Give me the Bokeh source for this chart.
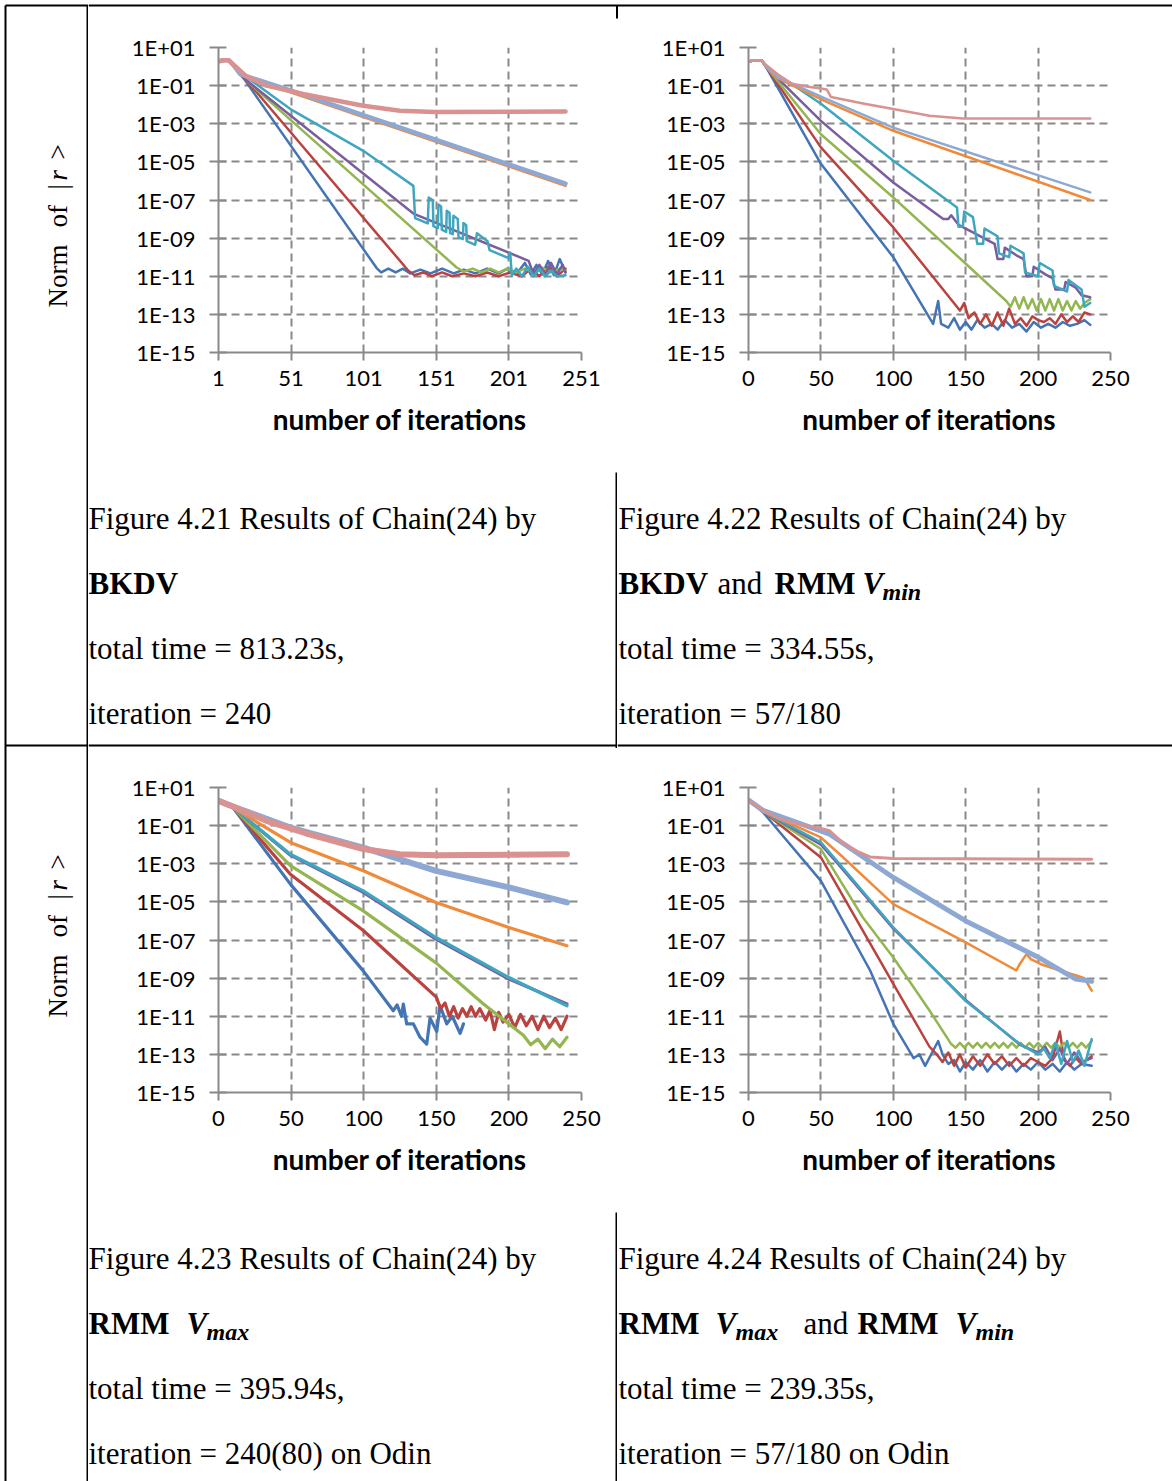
import math
from bokeh.plotting import figure
from bokeh.layouts import column, row
from bokeh.models import Range1d, FixedTicker
from bokeh.core.properties import value
from bokeh.embed import file_html
from bokeh.resources import INLINE

# ---------------- data (log10 of residual norm vs. iteration) ----------------
SERIES_NAMES = ["blue", "red", "green", "purple", "cyan", "orange", "lightblue", "pink"]
COLORS = ["#4574B4", "#BA4340", "#93B650", "#7A5D9E", "#3FA6C0", "#F08A38", "#8EA8D4", "#D9928F"]

Y_TICKS = [1, -1, -3, -5, -7, -9, -11, -13, -15]
Y_TICK_LABELS = ["1E+01", "1E-01", "1E-03", "1E-05", "1E-07", "1E-09", "1E-11", "1E-13", "1E-15"]
X_TICKS_21 = [1, 51, 101, 151, 201, 251]
X_TICKS = [0, 50, 100, 150, 200, 250]
X_LABEL = "number of iterations"
Y_LABEL_PARTS = ["Norm", "of", "|", "r", ">"]

# Figure 4.21 (BKDV)
F21_BLUE_IT = [1, 4, 8, 11, 15.5, 109.9, 113, 118, 123, 128, 133, 140, 147, 155, 163, 170, 178, 186, 194, 200, 206, 212, 216, 220, 224, 228, 232, 236, 240]
F21_BLUE_LG = [0.27, 0.33, 0.33, 0.1, -0.31, -10.57, -10.8, -10.6, -10.8, -10.6, -10.85, -10.65, -10.85, -10.6, -10.85, -10.65, -10.85, -10.6, -10.85, -10.6, -10.9, -10.3, -10.9, -10.4, -10.9, -10.2, -10.95, -10.1, -10.8]
F21_RED_IT = [1, 4, 8, 11, 15, 131.8, 136, 142, 148, 155, 162, 170, 178, 186, 194, 202, 210, 216, 222, 228, 234, 240]
F21_RED_LG = [0.27, 0.33, 0.33, 0.1, -0.25, -10.71, -10.95, -10.8, -11.0, -10.8, -11.0, -10.85, -11.0, -10.8, -11.0, -10.8, -11.0, -10.6, -11.0, -10.5, -11.0, -10.6]
F21_GREEN_IT = [1, 4, 8, 11, 17.8, 165, 170, 176, 182, 188, 194, 200, 206, 212, 218, 224, 230, 236, 240]
F21_GREEN_LG = [0.27, 0.33, 0.33, 0.1, -0.57, -10.54, -10.75, -10.6, -10.8, -10.6, -10.8, -10.6, -10.8, -10.6, -10.8, -10.55, -10.8, -10.6, -10.7]
F21_PURPLE_IT = [1, 4, 8, 11, 17.8, 135.2, 214.6, 218, 222, 226, 230, 234, 238, 240]
F21_PURPLE_LG = [0.27, 0.33, 0.33, 0.1, -0.57, -7.71, -10.19, -10.9, -10.4, -10.9, -10.3, -10.9, -10.4, -10.8]
F21_CYAN_IT = [1, 4, 8, 11, 15, 50.5, 100.7, 135.2, 136.4, 145.1, 145.8, 148.6, 149.0, 152.0, 152.5, 154.3, 154.8, 157.8, 158.2, 160.1, 160.5, 162.4, 162.8, 165.8, 166.3, 169.3, 169.7, 171.6, 172.0, 177.8, 179.0, 186.3, 187.7, 200.8, 201.9, 203, 206, 210, 214, 218, 222, 226, 230, 234, 240]
F21_CYAN_LG = [0.27, 0.33, 0.33, 0.1, -0.25, -2.23, -4.42, -6.26, -7.95, -8.23, -6.87, -7.02, -8.37, -8.48, -7.23, -7.34, -8.56, -8.67, -7.57, -7.67, -8.74, -8.79, -7.83, -8.0, -8.95, -9.05, -8.21, -8.32, -9.16, -9.35, -8.74, -9.16, -9.63, -10.05, -9.75, -10.98, -10.6, -11.0, -10.5, -11.0, -10.6, -11.0, -10.7, -11.0, -10.95]
F21_ORANGE_IT = [1, 4, 8, 11, 16, 240]
F21_ORANGE_LG = [0.27, 0.33, 0.33, 0.1, -0.45, -6.26]
F21_LIGHTBLUE_IT = [1, 4, 8, 11, 16, 50.5, 240]
F21_LIGHTBLUE_LG = [0.27, 0.33, 0.33, 0.1, -0.4, -1.25, -6.14]
F21_PINK_IT = [1, 4, 8, 11, 20, 34, 60, 100.7, 126, 150, 240]
F21_PINK_LG = [0.27, 0.33, 0.33, 0.12, -0.5, -1.0, -1.45, -2.06, -2.32, -2.38, -2.36]

# Figure 4.22 (BKDV and RMM Vmin)
F22_BLUE_IT = [0, 4, 9, 12, 50, 100, 127.5, 131, 133, 138, 142, 146, 150, 154, 158, 163, 168, 172, 177, 182, 187, 192, 197, 202, 207, 212, 217, 222, 227, 232, 236]
F22_BLUE_LG = [0.27, 0.33, 0.33, 0.0, -5.1, -10.0, -13.5, -12.3, -13.5, -13.7, -13.2, -13.8, -13.4, -13.8, -13.3, -13.7, -13.5, -13.8, -13.3, -13.7, -13.5, -13.9, -13.4, -13.7, -13.5, -13.7, -13.4, -13.6, -13.5, -13.3, -13.55]
F22_RED_IT = [0, 4, 9, 12, 50, 100, 146, 149, 152, 156, 160, 164, 168, 172, 176, 180, 184, 188, 192, 196, 200, 204, 208, 212, 216, 220, 224, 228, 232, 236]
F22_RED_LG = [0.27, 0.33, 0.33, 0.0, -4.24, -8.44, -12.8, -12.4, -13.2, -12.9, -13.5, -13.0, -13.6, -12.9, -13.6, -12.7, -13.5, -13.2, -13.6, -13.1, -13.3, -13.4, -13.2, -13.5, -13.0, -13.4, -13.1, -13.4, -12.9, -13.0]
F22_GREEN_IT = [0, 4, 9, 12, 50, 100, 148, 178, 181, 184, 187, 190, 193, 196, 199, 202, 205, 208, 211, 214, 217, 220, 223, 226, 229, 232, 236]
F22_GREEN_LG = [0.27, 0.33, 0.33, 0.0, -3.55, -6.87, -10.2, -12.3, -12.6, -12.1, -12.7, -12.1, -12.7, -12.2, -12.8, -12.2, -12.8, -12.2, -12.8, -12.2, -12.8, -12.3, -12.8, -12.3, -12.7, -12.4, -12.2]
F22_PURPLE_IT = [0, 4, 9, 12, 50, 100, 134.5, 138, 140, 143, 145, 155, 165, 170, 172, 176, 177, 185, 190, 192, 196, 197, 205, 210, 212, 218, 219, 226, 230, 236]
F22_PURPLE_LG = [0.27, 0.33, 0.33, 0.0, -2.85, -6.08, -8.0, -8.0, -7.8, -8.1, -8.3, -8.7, -9.1, -9.3, -10.1, -10.1, -9.5, -9.9, -10.1, -11.0, -11.0, -10.5, -10.9, -11.1, -11.7, -11.7, -11.3, -11.6, -12.0, -12.1]
F22_CYAN_IT = [0, 4, 9, 12, 50, 100, 144, 145, 148, 149, 155, 158, 162, 163, 172, 173, 180, 181, 190, 191, 200, 201, 210, 211, 220, 221, 230, 232, 236]
F22_CYAN_LG = [0.27, 0.33, 0.33, 0.0, -1.95, -4.94, -7.39, -8.4, -8.4, -7.6, -7.9, -9.3, -9.3, -8.5, -8.9, -9.8, -10.0, -9.4, -9.8, -10.8, -11.0, -10.3, -10.7, -11.5, -11.8, -11.2, -11.7, -12.6, -12.4]
F22_ORANGE_IT = [0, 4, 9, 12, 20, 54, 100, 236]
F22_ORANGE_LG = [0.27, 0.33, 0.33, 0.0, -0.6, -1.85, -3.37, -7.0]
F22_LIGHTBLUE_IT = [0, 4, 9, 12, 20, 54, 100, 236]
F22_LIGHTBLUE_LG = [0.27, 0.33, 0.33, 0.0, -0.55, -1.71, -3.2, -6.6]
F22_PINK_IT = [0, 4, 9, 12, 20, 30, 40, 50, 54, 57, 80, 100, 125, 148, 236]
F22_PINK_LG = [0.27, 0.33, 0.33, 0.1, -0.4, -0.9, -1.05, -1.15, -1.2, -1.6, -1.95, -2.23, -2.58, -2.72, -2.72]

# Figure 4.23 (RMM Vmax)
F23_BLUE_IT = [0, 5, 10, 49.5, 99.7, 120.4, 123, 126, 127.3, 129.6, 134.2, 138.8, 143.4, 145.7, 150.3, 152.6, 157.2, 161, 166.4, 168.7]
F23_BLUE_LG = [0.3, 0.15, -0.05, -4.07, -8.62, -10.71, -10.4, -11.0, -10.36, -11.4, -11.4, -12.1, -12.46, -11.1, -11.8, -10.45, -11.4, -11.0, -11.9, -11.4]
F23_RED_IT = [0, 5, 10, 49.5, 99.7, 150, 153, 156, 159, 162, 165, 168, 171, 174, 177, 180, 184, 187, 190, 193, 196, 200, 204, 208, 212, 216, 220, 224, 228, 232, 236, 240]
F23_RED_LG = [0.3, 0.15, -0.05, -3.55, -6.5, -10.0, -10.6, -10.3, -11.0, -10.5, -11.1, -10.6, -11.0, -10.5, -11.0, -10.6, -11.2, -10.7, -11.7, -10.8, -11.3, -10.9, -11.6, -10.9, -11.5, -11.0, -11.7, -11.0, -11.6, -11.1, -11.7, -11.0]
F23_GREEN_IT = [0, 5, 10, 49.5, 99.7, 149.8, 182.5, 200, 210, 215, 220, 225, 230, 235, 240]
F23_GREEN_LG = [0.3, 0.15, -0.05, -3.1, -5.47, -8.2, -10.36, -11.4, -12.0, -12.5, -12.2, -12.7, -12.2, -12.6, -12.1]
F23_PURPLE_IT = [0, 5, 10, 49.5, 99.7, 149.8, 200, 240]
F23_PURPLE_LG = [0.3, 0.15, -0.05, -2.55, -4.5, -6.95, -9.05, -10.35]
F23_CYAN_IT = [0, 5, 10, 49.5, 99.7, 149.8, 200, 240]
F23_CYAN_LG = [0.3, 0.15, -0.05, -2.5, -4.42, -6.87, -8.97, -10.45]
F23_ORANGE_IT = [0, 5, 10, 49.5, 99.7, 149.8, 200, 240]
F23_ORANGE_LG = [0.3, 0.15, -0.05, -1.88, -3.37, -5.03, -6.34, -7.3]
F23_LIGHTBLUE_IT = [0, 5, 10, 49.5, 99.7, 149.8, 200, 240]
F23_LIGHTBLUE_LG = [0.3, 0.15, 0.0, -1.1, -2.15, -3.37, -4.24, -5.03]
F23_PINK_IT = [0, 5, 10, 33, 60, 99.7, 125, 150, 240]
F23_PINK_LG = [0.3, 0.15, 0.0, -0.75, -1.4, -2.23, -2.5, -2.55, -2.5]

# Figure 4.24 (RMM Vmax and RMM Vmin)
F24_BLUE_IT = [0, 10, 50, 84, 100, 114, 118, 122, 131, 134, 138, 142, 146, 150, 155, 160, 165, 170, 175, 180, 185, 190, 195, 200, 205, 210, 215, 220, 225, 230, 237]
F24_BLUE_LG = [0.34, -0.3, -3.9, -8.6, -11.4, -13.2, -13.0, -13.6, -12.3, -13.0, -13.5, -13.3, -13.9, -13.4, -13.8, -13.3, -13.9, -13.4, -13.8, -13.4, -13.9, -13.5, -13.8, -13.4, -13.8, -13.5, -13.9, -13.4, -13.8, -13.5, -13.6]
F24_RED_IT = [0, 10, 50, 100, 125, 130, 134, 138, 142, 146, 150, 155, 160, 165, 170, 175, 180, 185, 190, 195, 200, 205, 210, 215, 218, 222, 226, 230, 237]
F24_RED_LG = [0.34, -0.25, -2.67, -9.3, -12.6, -13.0, -13.4, -12.9, -13.6, -13.0, -13.7, -13.1, -13.6, -13.0, -13.5, -13.1, -13.6, -13.2, -13.6, -13.2, -13.4, -13.6, -13.2, -11.8, -13.3, -13.6, -13.2, -13.5, -13.1]
F24_GREEN_IT = [0, 10, 50, 79, 100, 125, 140, 143, 146, 149, 152, 155, 158, 161, 164, 167, 170, 173, 176, 179, 182, 185, 188, 191, 194, 197, 200, 203, 206, 209, 212, 215, 218, 221, 224, 227, 230, 233, 237]
F24_GREEN_LG = [0.34, -0.25, -2.23, -5.82, -7.92, -10.7, -12.46, -12.65, -12.4, -12.65, -12.4, -12.65, -12.4, -12.65, -12.4, -12.65, -12.4, -12.65, -12.4, -12.65, -12.4, -12.65, -12.4, -12.65, -12.4, -12.65, -12.4, -12.65, -12.4, -12.65, -12.4, -12.65, -12.4, -12.65, -12.4, -12.65, -12.4, -12.65, -12.3]
F24_PURPLE_IT = [0, 10, 50, 61, 100, 150, 187.5, 200, 205, 210, 215, 220, 225, 230, 237]
F24_PURPLE_LG = [0.34, -0.25, -2.0, -2.95, -6.4, -10.15, -12.5, -12.9, -12.6, -13.3, -12.7, -13.5, -12.9, -13.4, -13.2]
F24_CYAN_IT = [0, 10, 50, 61, 100, 150, 187.5, 200, 204, 208, 212, 216, 220, 224, 228, 232, 237]
F24_CYAN_LG = [0.34, -0.25, -1.88, -2.85, -6.34, -10.2, -12.46, -13.0, -12.7, -13.2, -12.4, -13.5, -12.3, -13.4, -12.8, -13.6, -12.2]
F24_ORANGE_IT = [0, 10, 50, 63, 100, 150, 185, 187, 192, 195, 202, 215, 228, 232, 237]
F24_ORANGE_LG = [0.34, -0.25, -1.62, -2.5, -5.12, -7.13, -8.6, -8.3, -7.74, -8.0, -8.27, -8.6, -8.9, -9.0, -9.66]
F24_LIGHTBLUE_IT = [0, 10, 56, 100, 150, 200, 226, 237]
F24_LIGHTBLUE_LG = [0.34, -0.2, -1.45, -3.72, -6.0, -7.9, -9.05, -9.17]
F24_PINK_IT = [0, 10, 20, 30, 40, 50, 56, 65, 75, 84, 100, 237]
F24_PINK_LG = [0.34, -0.2, -0.6, -0.85, -1.0, -1.15, -1.27, -1.9, -2.35, -2.64, -2.72, -2.76]

CAP_21 = ["Figure 4.21 Results of Chain(24) by", "BKDV", "total time = 813.23s,", "iteration = 240"]
CAP_22 = ["Figure 4.22 Results of Chain(24) by", "BKDV", "and", "RMM", "V", "min", "total time = 334.55s,", "iteration = 57/180"]
CAP_23 = ["Figure 4.23 Results of Chain(24) by", "RMM", "V", "max", "total time = 395.94s,", "iteration = 240(80) on Odin"]
CAP_24 = ["Figure 4.24 Results of Chain(24) by", "RMM", "V", "max", "and", "RMM", "V", "min", "total time = 239.35s,", "iteration = 57/180 on Odin"]

SERIES_21 = [(F21_BLUE_IT, F21_BLUE_LG), (F21_RED_IT, F21_RED_LG), (F21_GREEN_IT, F21_GREEN_LG), (F21_PURPLE_IT, F21_PURPLE_LG),
             (F21_CYAN_IT, F21_CYAN_LG), (F21_ORANGE_IT, F21_ORANGE_LG), (F21_LIGHTBLUE_IT, F21_LIGHTBLUE_LG), (F21_PINK_IT, F21_PINK_LG)]
SERIES_22 = [(F22_BLUE_IT, F22_BLUE_LG), (F22_RED_IT, F22_RED_LG), (F22_GREEN_IT, F22_GREEN_LG), (F22_PURPLE_IT, F22_PURPLE_LG),
             (F22_CYAN_IT, F22_CYAN_LG), (F22_ORANGE_IT, F22_ORANGE_LG), (F22_LIGHTBLUE_IT, F22_LIGHTBLUE_LG), (F22_PINK_IT, F22_PINK_LG)]
SERIES_23 = [(F23_BLUE_IT, F23_BLUE_LG), (F23_RED_IT, F23_RED_LG), (F23_GREEN_IT, F23_GREEN_LG), (F23_PURPLE_IT, F23_PURPLE_LG),
             (F23_CYAN_IT, F23_CYAN_LG), (F23_ORANGE_IT, F23_ORANGE_LG), (F23_LIGHTBLUE_IT, F23_LIGHTBLUE_LG), (F23_PINK_IT, F23_PINK_LG)]
SERIES_24 = [(F24_BLUE_IT, F24_BLUE_LG), (F24_RED_IT, F24_RED_LG), (F24_GREEN_IT, F24_GREEN_LG), (F24_PURPLE_IT, F24_PURPLE_LG),
             (F24_CYAN_IT, F24_CYAN_LG), (F24_ORANGE_IT, F24_ORANGE_LG), (F24_LIGHTBLUE_IT, F24_LIGHTBLUE_LG), (F24_PINK_IT, F24_PINK_LG)]

# ---------------- styling ----------------
GRAY = "#898989"
TICK_FONT = "Lato"
SERIF = "Liberation Serif"
CAP_SIZE = "31px"
SUB_SIZE = "24px"


def make_plot(width, height, b_left, b_right, b_top, b_bottom, x_lo, x_hi, x_ticks, series, widths):
    p = figure(width=width, height=height, x_range=Range1d(x_lo, x_hi), y_range=Range1d(-15, 1),
               output_backend="svg", toolbar_location=None,
               min_border_left=b_left, min_border_right=b_right,
               min_border_top=b_top, min_border_bottom=b_bottom)
    p.outline_line_color = None
    p.background_fill_color = "white"
    p.border_fill_color = "white"
    p.xaxis.ticker = FixedTicker(ticks=x_ticks)
    p.yaxis.ticker = FixedTicker(ticks=Y_TICKS)
    p.yaxis.major_label_overrides = {t: lab for t, lab in zip(Y_TICKS, Y_TICK_LABELS)}
    for ax in (p.xaxis, p.yaxis):
        ax.axis_line_color = GRAY
        ax.axis_line_width = 2
        ax.major_tick_line_color = GRAY
        ax.major_tick_line_width = 2
        ax.minor_tick_line_color = None
        ax.major_label_text_font = TICK_FONT
        ax.major_label_text_font_size = "22px"
        ax.major_label_text_color = "black"
    p.yaxis.major_tick_in = 8
    p.yaxis.major_tick_out = 9
    p.yaxis.major_label_standoff = 14
    p.xaxis.major_tick_in = 0
    p.xaxis.major_tick_out = 8
    p.xaxis.major_label_standoff = 10
    p.xaxis.axis_label = X_LABEL
    p.xaxis.axis_label_text_font = TICK_FONT
    p.xaxis.axis_label_text_font_style = "bold"
    p.xaxis.axis_label_text_font_size = "28px"
    p.xaxis.axis_label_text_color = "black"
    p.xaxis.axis_label_standoff = 13
    p.xgrid.ticker = FixedTicker(ticks=x_ticks)
    p.ygrid.ticker = FixedTicker(ticks=Y_TICKS)
    for g in (p.xgrid, p.ygrid):
        g.grid_line_color = GRAY
        g.grid_line_width = 2
        g.grid_line_dash = "8 5"
    for (it, lg), col, w in zip(series, COLORS, widths):
        n = min(len(it), len(lg))
        p.line(it[:n], lg[:n], line_color=col, line_width=w, line_join="round", line_cap="round")
    return p


def make_canvas(width, height):
    p = figure(width=width, height=height, x_range=Range1d(0, width), y_range=Range1d(height, 0),
               x_axis_type=None, y_axis_type=None, output_backend="svg", toolbar_location=None,
               min_border=0)
    p.outline_line_color = None
    p.background_fill_color = "white"
    p.border_fill_color = "white"
    return p


def seg(p, x0, y0, x1, y1):
    p.segment(x0=[x0], y0=[y0], x1=[x1], y1=[y1], line_color="black", line_width=2)


def txt(p, x, y, s, style="normal", size=CAP_SIZE, font=SERIF, angle=0.0):
    p.text(x=[x], y=[y], text=[s], text_font=value(font), text_font_size=value(size),
           text_font_style=value(style), text_baseline="alphabetic", text_align="left",
           text_color="black", angle=angle)


# ---------------- left column (y label + borders) ----------------
C0 = make_canvas(88, 1481)
seg(C0, 5, 5, 5, 1481)
seg(C0, 5, 5, 88, 5)
seg(C0, 87, 5, 87, 1481)
seg(C0, 5, 745, 88, 745)
for off in (0, 710):
    txt(C0, 57, 307 + off, Y_LABEL_PARTS[0], size="27px", angle=math.pi / 2)
    txt(C0, 57, 227 + off, Y_LABEL_PARTS[1], size="27px", angle=math.pi / 2)
    txt(C0, 57, 189 + off, Y_LABEL_PARTS[2], size="27px", angle=math.pi / 2)
    txt(C0, 57, 180 + off, Y_LABEL_PARTS[3], style="italic", size="27px", angle=math.pi / 2)
    txt(C0, 57, 159 + off, Y_LABEL_PARTS[4], size="27px", angle=math.pi / 2)

# ---------------- top strip ----------------
S = make_canvas(1084, 20)
seg(S, 0, 5, 1084, 5)
seg(S, 528.5, 5, 528.5, 18)

# ---------------- plots ----------------
P1 = make_plot(529, 440, 130, 36, 27, 108, 1, 251, X_TICKS_21, SERIES_21, [2.5] * 6 + [4.5, 4.5])
P2 = make_plot(555, 440, 131, 62, 27, 108, 0, 250, X_TICKS, SERIES_22, [2.5] * 8)
P3 = make_plot(529, 452, 130, 36, 39, 108, 0, 250, X_TICKS, SERIES_23, [3.2] * 6 + [6, 6])
P4 = make_plot(555, 452, 131, 62, 39, 108, 0, 250, X_TICKS, SERIES_24, [2.5] * 6 + [5, 3])

# ---------------- captions ----------------
BL = [58, 123, 188, 253]
K1 = make_canvas(529, 288)
seg(K1, 0, 285, 529, 285)
seg(K1, 528, 12, 528, 288)
txt(K1, 0, BL[0], CAP_21[0])
txt(K1, 0, BL[1], CAP_21[1], style="bold")
txt(K1, 0, BL[2], CAP_21[2])
txt(K1, 0, BL[3], CAP_21[3])

K2 = make_canvas(555, 288)
seg(K2, 0, 285, 555, 285)
txt(K2, 1, BL[0], CAP_22[0])
txt(K2, 1, BL[1], CAP_22[1], style="bold")
txt(K2, 100, BL[1], CAP_22[2])
txt(K2, 157, BL[1], CAP_22[3], style="bold")
txt(K2, 245, BL[1], CAP_22[4], style="bold italic")
txt(K2, 265, BL[1] + 8, CAP_22[5], style="bold italic", size=SUB_SIZE)
txt(K2, 1, BL[2], CAP_22[6])
txt(K2, 1, BL[3], CAP_22[7])

K3 = make_canvas(529, 281)
seg(K3, 528, 12, 528, 281)
txt(K3, 0, BL[0], CAP_23[0])
txt(K3, 0, BL[1], CAP_23[1], style="bold")
txt(K3, 98, BL[1], CAP_23[2], style="bold italic")
txt(K3, 118, BL[1] + 8, CAP_23[3], style="bold italic", size=SUB_SIZE)
txt(K3, 0, BL[2], CAP_23[4])
txt(K3, 0, BL[3], CAP_23[5])

K4 = make_canvas(555, 281)
txt(K4, 1, BL[0], CAP_24[0])
txt(K4, 1, BL[1], CAP_24[1], style="bold")
txt(K4, 98, BL[1], CAP_24[2], style="bold italic")
txt(K4, 118, BL[1] + 8, CAP_24[3], style="bold italic", size=SUB_SIZE)
txt(K4, 186, BL[1], CAP_24[4])
txt(K4, 240, BL[1], CAP_24[5], style="bold")
txt(K4, 338, BL[1], CAP_24[6], style="bold italic")
txt(K4, 358, BL[1] + 8, CAP_24[7], style="bold italic", size=SUB_SIZE)
txt(K4, 1, BL[2], CAP_24[8])
txt(K4, 1, BL[3], CAP_24[9])

right = column(S, row(P1, P2), row(K1, K2), row(P3, P4), row(K3, K4))
page = row(C0, right)

open("out.html", "w").write(file_html(page, INLINE))
